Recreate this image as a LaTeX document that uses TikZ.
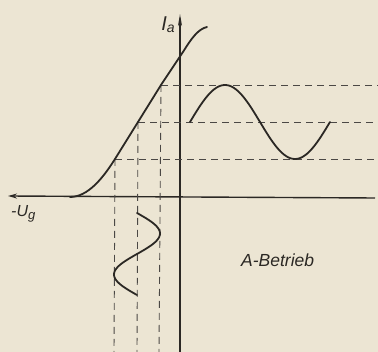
\documentclass[tikz,border=0pt]{standalone}
\usepackage{fontspec}
\setmainfont{Liberation Sans}
\usetikzlibrary{arrows.meta}
\definecolor{paper}{HTML}{ECE5D3}
\definecolor{ink}{HTML}{2B2824}
\tikzset{
  curve/.style={draw=ink, line width=1.8pt, line cap=round, line join=round},
  axis/.style={draw=ink, line width=1.4pt},
  guide/.style={draw=ink!85, line width=0.9pt, dash pattern=on 7pt off 5pt},
  lbl/.style={text=ink, font=\itshape, inner sep=0pt}
}
\begin{document}
\begin{tikzpicture}[x=1pt,y=-1pt]
\fill[paper] (0,0) rectangle (378,352);
\useasboundingbox (0,0) rectangle (378,352);
% axes
\coordinate (xr) at (375,198);
\coordinate (xl) at (8,196);
\coordinate (yb) at (180,352);
\coordinate (yt) at (180,14);
\draw[axis, -{Stealth[length=9pt,width=5pt]}] (xr) -- (xl);
\draw[axis, -{Stealth[length=12pt,width=4pt]}] (yb) -- (yt);
% guides
\coordinate (p1) at (161,85);
\coordinate (p2) at (138,122);
\coordinate (p3) at (115,159);
\draw[guide] (p1) -- (378,85);
\draw[guide] (p2) -- (378,122);
\draw[guide] (p3) -- (378,159);
\draw[guide] (p1) -- (159,352);
\draw[guide] (p2) -- (137,352);
\draw[guide] (p3) -- (114,352);
% characteristic
\draw[curve] (70,197) .. controls (88,197) and (103,178) .. (p3) -- (p2) -- (p1) -- (183,52) .. controls (191,39) and (198,29) .. (207,27);
% output signal
\draw[curve] plot[domain=0:140, samples=80, smooth] ({190+\x}, {122-37*sin(\x/140*360)});
% input signal
\draw[curve] plot[domain=0:82, samples=60, smooth] ({137+23*sin(\x/82*360)}, {213+\x});
% labels
\node[lbl, font=\itshape\fontsize{20}{20}\selectfont, anchor=base] (ia) at (168,31) {I\raisebox{-2pt}{\fontsize{14}{14}\selectfont a}};
\node[lbl, font=\itshape\fontsize{16}{16}\selectfont, anchor=base west] (ug) at (11,217) {-U\raisebox{-3pt}{\fontsize{13}{13}\selectfont g}};
\node[lbl, font=\itshape\fontsize{17.5}{17.5}\selectfont, anchor=base west] (ab) at (241,267) {A-Betrieb};
\end{tikzpicture}
\end{document}
